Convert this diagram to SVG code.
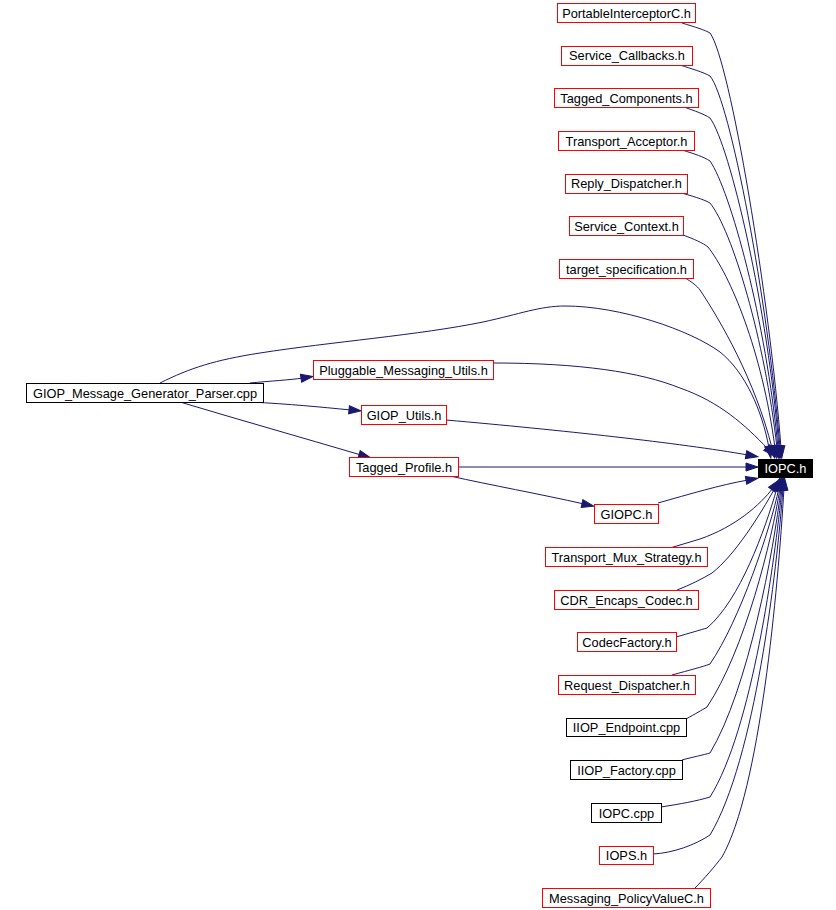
<svg xmlns="http://www.w3.org/2000/svg" width="836" height="910" viewBox="0 0 836 910">
<style>
.n rect{fill:#fff;stroke:#ff0000;stroke-width:1}
.n.b rect{stroke:#000}
.n text{font-family:"Liberation Sans",Arial,sans-serif;font-size:12.8px;fill:#000;text-anchor:middle}
.n.r rect{fill:#000;stroke:#000}
.n.r text{fill:#fff}
.e path{fill:none;stroke:#191970;stroke-width:1;marker-end:url(#ah)}
</style>
<defs>
<marker id="ah" markerUnits="userSpaceOnUse" markerWidth="14" markerHeight="10" refX="2" refY="4" viewBox="0 0 14 8" orient="auto" overflow="visible">
<path d="M0,0 L12,4 L0,8 Z" fill="#191970" stroke="#191970" stroke-width="1"/>
</marker>
</defs>
<rect width="836" height="910" fill="#fff"/>
<g id="edges" class="e">
<path d="M682,23 C695,27 705,30 710,33 C730,60 770,300 781,448"/>
<path d="M680,65 C692,69 703,72 710,76 C730,100 768,300 780,448"/>
<path d="M684,107 C695,111 704,114 710,118 C730,145 768,310 779,448"/>
<path d="M682,150 C695,154 704,157 710,161 C730,190 766,320 778,448"/>
<path d="M678,192 C692,196 703,199 710,203 C732,230 765,340 777,448"/>
<path d="M683,235 C694,239 703,243 708,247 C730,275 762,350 775,448"/>
<path d="M685,278 C692,282 697,286 700,290 C720,320 755,380 772,448"/>
<path d="M160,383 C190,368 215,360 260,353 C330,342 420,335 483,322 C520,314 540,306 565,306 C620,306 690,330 720,352 C745,372 762,410 769,448"/>
<path d="M493,363 C580,363 640,372 680,388 C720,402 745,425 768,449"/>
<path d="M446,420 C560,430 680,443 748,455"/>
<path d="M458,467 L748,467"/>
<path d="M450,476 C490,485 540,494 584,504"/>
<path d="M658,503 C690,494 720,485 748,480"/>
<path d="M250,383 C270,381 290,380 303,378"/>
<path d="M250,402 C290,404 320,407 351,410"/>
<path d="M180,402 C240,420 300,437 361,455"/>
<path d="M670,548 C680,545 690,542 700,539 C735,527 760,505 773,488"/>
<path d="M677,590 C690,585 702,579 712,573 C735,555 760,515 775,488"/>
<path d="M676,637 C690,633 700,630 707,628 C740,600 765,530 777,488"/>
<path d="M672,675 C690,670 702,667 710,664 C740,620 770,530 779,488"/>
<path d="M686,719 C695,714 702,710 707,707 C745,650 772,540 780,488"/>
<path d="M682,760 C693,757 703,755 710,753 C748,690 774,550 781,488"/>
<path d="M661,807 C680,804 697,801 710,797 C752,730 775,560 782,488"/>
<path d="M653,854 C673,853 695,845 710,835 C755,760 777,570 783,488"/>
<path d="M695,888 C705,878 715,866 722,857 C760,790 778,590 784,488"/>
</g>
<g id="n_portable" class="n"><rect x="557.5" y="3.5" width="138" height="19"/><text x="626.5" y="17.5">PortableInterceptorC.h</text></g>
<g id="n_svc_cb" class="n"><rect x="561.5" y="46.5" width="131" height="19"/><text x="627" y="60">Service_Callbacks.h</text></g>
<g id="n_tag_comp" class="n"><rect x="554.5" y="88.5" width="144" height="19"/><text x="626.5" y="102.5">Tagged_Components.h</text></g>
<g id="n_tr_acc" class="n"><rect x="558.5" y="131.5" width="136" height="19"/><text x="626.5" y="145.5">Transport_Acceptor.h</text></g>
<g id="n_reply" class="n"><rect x="565.5" y="174.5" width="122" height="19"/><text x="626.5" y="188">Reply_Dispatcher.h</text></g>
<g id="n_svc_ctx" class="n"><rect x="569.5" y="216.5" width="114" height="19"/><text x="626.5" y="230.5">Service_Context.h</text></g>
<g id="n_target" class="n"><rect x="559.5" y="259.5" width="134" height="19"/><text x="626.5" y="273.5">target_specification.h</text></g>
<g id="n_gmgp" class="n b"><rect x="26.5" y="383.5" width="237" height="19"/><text x="145" y="397.5">GIOP_Message_Generator_Parser.cpp</text></g>
<g id="n_pmu" class="n"><rect x="313.5" y="360.5" width="180" height="19"/><text x="403.5" y="374.5">Pluggable_Messaging_Utils.h</text></g>
<g id="n_giop_utils" class="n"><rect x="361.5" y="405.5" width="85" height="19"/><text x="404" y="419.5">GIOP_Utils.h</text></g>
<g id="n_tag_prof" class="n"><rect x="349.5" y="457.5" width="109" height="19"/><text x="404" y="471.5">Tagged_Profile.h</text></g>
<g id="n_iopch" class="n r"><rect x="758.5" y="459.5" width="54" height="18"/><text x="785.5" y="473">IOPC.h</text></g>
<g id="n_giopc" class="n"><rect x="594.5" y="504.5" width="64" height="19"/><text x="626.5" y="518.5">GIOPC.h</text></g>
<g id="n_tms" class="n"><rect x="545.5" y="547.5" width="162" height="19"/><text x="626.5" y="561.5">Transport_Mux_Strategy.h</text></g>
<g id="n_cdr" class="n"><rect x="554.5" y="590.5" width="144" height="19"/><text x="626.5" y="604.5">CDR_Encaps_Codec.h</text></g>
<g id="n_codecf" class="n"><rect x="577.5" y="632.5" width="99" height="19"/><text x="627" y="646.5">CodecFactory.h</text></g>
<g id="n_reqd" class="n"><rect x="558.5" y="675.5" width="137" height="19"/><text x="627" y="689.5">Request_Dispatcher.h</text></g>
<g id="n_iiop_ep" class="n b"><rect x="566.5" y="718.5" width="120" height="18"/><text x="626.5" y="732">IIOP_Endpoint.cpp</text></g>
<g id="n_iiop_f" class="n b"><rect x="570.5" y="760.5" width="112" height="19"/><text x="626.5" y="774.5">IIOP_Factory.cpp</text></g>
<g id="n_iopc_cpp" class="n b"><rect x="591.5" y="803.5" width="70" height="19"/><text x="626.5" y="817.5">IOPC.cpp</text></g>
<g id="n_iops" class="n"><rect x="599.5" y="846.5" width="54" height="18"/><text x="626.5" y="860">IOPS.h</text></g>
<g id="n_msg_pv" class="n"><rect x="542.5" y="888.5" width="168" height="19"/><text x="626.5" y="902.5">Messaging_PolicyValueC.h</text></g>
</svg>
